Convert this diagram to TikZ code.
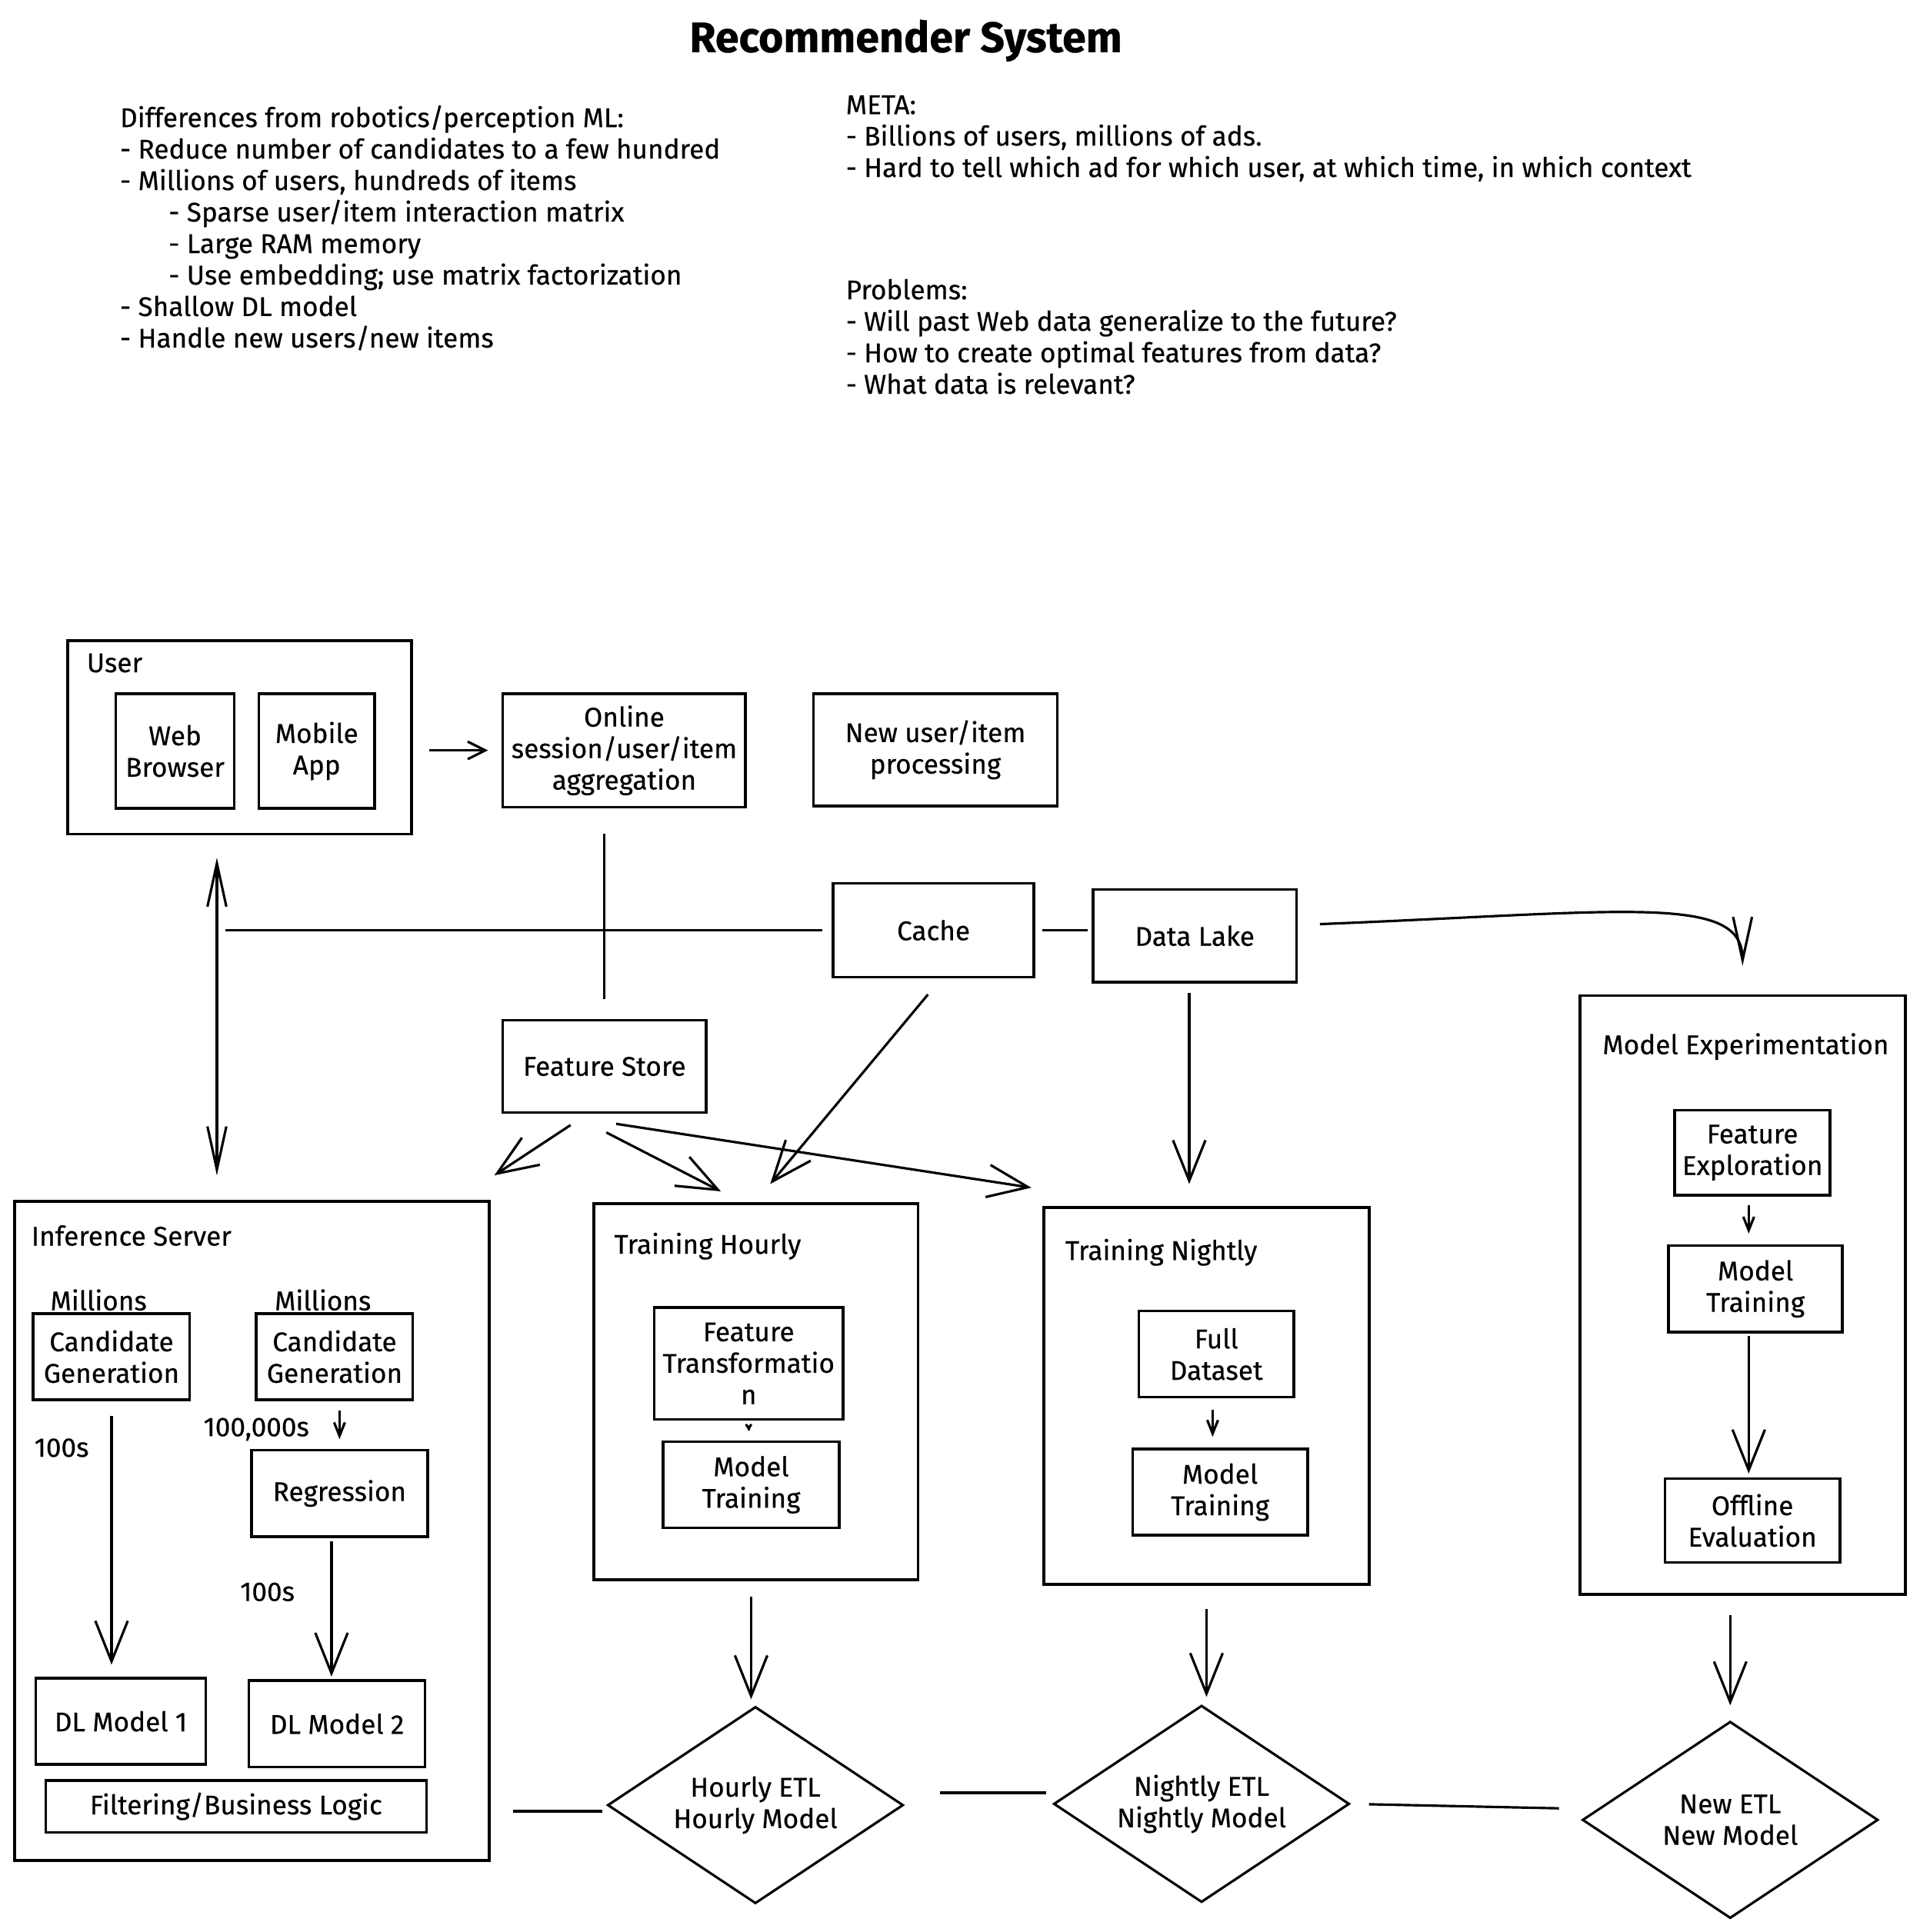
\documentclass[tikz,border=0pt]{standalone}
\usepackage{fontspec}
\setmainfont{Fira Sans}[FakeBold=0.4]
\usetikzlibrary{arrows.meta,shapes.geometric,calc}
\newcommand{\bodyfs}{\fontsize{10pt}{11.65pt}\selectfont}
\newcommand{\titlefs}{\fontsize{15.8pt}{19pt}\selectfont\bfseries}

\begin{document}
\begin{tikzpicture}[x=0.01602cm, y=-0.01602cm,
  every node/.style={font=\bodyfs},
  box/.style={draw, line width=1pt, inner sep=0pt, align=center},
  sz/.style 2 args={minimum width=#1*0.01602cm, minimum height=#2*0.01602cm},
  lbl/.style={inner sep=0pt, anchor=north west, align=left},
  txt/.style={inner sep=0pt},
  etl/.style={draw, diamond, line width=0.9pt, inner sep=0pt, aspect=1.5,
              align=center, minimum width=3.845cm, minimum height=2.56cm},
  link/.style={line width=0.9pt},
  bigtip/.style={link, -{Straight Barb[length=15pt,width=12pt]}},
  smalltip/.style={link, -{Straight Barb[length=5pt,width=4pt]}},
  midtip/.style={link, -{Straight Barb[length=6.5pt,width=6.5pt]}},
  longtip/.style={link, -{Straight Barb[length=16pt,width=7pt]}},
  bothtips/.style={link, {Straight Barb[length=16pt,width=7pt]}-{Straight Barb[length=16pt,width=7pt]}},
]
\useasboundingbox (0,0) rectangle (1558,1568);

% ---------- heading and notes ----------
\node[txt, font=\titlefs] (title) at (735,33) {Recommender System};

\node[lbl] (diffs) at (97,85) {Differences from robotics/perception ML:\\
- Reduce number of candidates to a few hundred\\
- Millions of users, hundreds of items\\
\hspace*{18pt}- Sparse user/item interaction matrix\\
\hspace*{18pt}- Large RAM memory\\
\hspace*{18pt}- Use embedding; use matrix factorization\\
- Shallow DL model\\
- Handle new users/new items};

\node[lbl] (meta) at (686,77) {META:\\
- Billions of users, millions of ads.\\
- Hard to tell which ad for which user, at which time, in which context};

\node[lbl] (problems) at (686,226) {Problems:\\
- Will past Web data generalize to the future?\\
- How to create optimal features from data?\\
- What data is relevant?};

% ---------- top row ----------
\node[box, sz={279}{157}] (user) at (194.5,598.5) {};
\node[lbl] (userlbl) at (70,530) {User};
\node[box, sz={96}{93}] (web) at (142,609.5) {Web\\Browser};
\node[box, sz={94}{93}] (mobile) at (257,609.5) {Mobile\\App};
\node[box, sz={197}{92}] (online) at (506.5,609) {Online\\session/user/item\\aggregation};
\node[box, sz={198}{91}] (newproc) at (759,608.5) {New user/item\\processing};

% ---------- storage ----------
\node[box, sz={163}{76}] (cache) at (757.5,755) {Cache};
\node[box, sz={165}{75}] (lake) at (969.5,759.5) {Data Lake};
\node[box, sz={165}{75}] (fs) at (490.5,865.5) {Feature Store};
\coordinate (jn) at (176,757);

% ---------- inference server ----------
\node[box, sz={385}{535}] (inf) at (204.5,1242.5) {};
\node[lbl] (inflbl) at (25,994) {Inference Server};
\node[txt] (mil1) at (80,1055) {Millions};
\node[txt] (mil2) at (262,1055) {Millions};
\node[box, sz={127}{70}] (cg1) at (90.5,1101) {Candidate\\Generation};
\node[box, sz={127}{70}] (cg2) at (271.5,1101) {Candidate\\Generation};
\node[txt] (n100a) at (50,1175) {100s};
\node[txt] (n100k) at (208,1160) {100,000s};
\node[txt] (n100b) at (217,1292) {100s};
\node[box, sz={143}{70}] (reg) at (275.5,1212) {Regression};
\node[box, sz={138}{70}] (dl1) at (98,1397) {DL Model 1};
\node[box, sz={143}{70}] (dl2) at (273.5,1399) {DL Model 2};
\node[box, sz={309}{42}] (filt) at (191.5,1466) {Filtering/Business Logic};

% ---------- hourly training ----------
\node[box, sz={263}{305}] (th) at (613.5,1129.5) {};
\node[lbl] (thlbl) at (498,1000) {Training Hourly};
\node[box, sz={153}{91}] (ft) at (607.5,1106.5) {Feature\\Transformatio\\n};
\node[box, sz={143}{70}] (mth) at (609.5,1205) {Model\\Training};

% ---------- nightly training ----------
\node[box, sz={264}{306}] (tn) at (979,1133) {};
\node[lbl] (tnlbl) at (864,1005) {Training Nightly};
\node[box, sz={126}{70}] (fd) at (987,1099) {Full\\Dataset};
\node[box, sz={142}{70}] (mtn) at (990,1211) {Model\\Training};

% ---------- experimentation ----------
\node[box, sz={264}{486}] (me) at (1414,1051) {};
\node[lbl] (melbl) at (1300,838) {Model Experimentation};
\node[box, sz={126}{69}] (fe) at (1422,935.5) {Feature\\Exploration};
\node[box, sz={141}{70}] (mte) at (1424.5,1046) {Model\\Training};
\node[box, sz={142}{68}] (oe) at (1422,1234) {Offline\\Evaluation};

% ---------- deployment ----------
\node[etl] (hetl) at (613,1465) {Hourly ETL\\Hourly Model};
\node[etl] (netl) at (975,1464) {Nightly ETL\\Nightly Model};
\node[etl] (newetl) at (1404,1477) {New ETL\\New Model};

% ---------- connectors ----------
\draw[midtip, shorten <=5.9pt, shorten >=5pt] (user.east |- online.west) -- (online.west);
\draw[link, shorten <=9.5pt, shorten >=7.3pt] (fs.north |- online.south) -- (fs.north);
\draw[bothtips, shorten <=8.2pt, shorten >=9.1pt] (jn |- user.south) -- (jn |- inf.north);
\draw[link, shorten <=3.6pt, shorten >=3.2pt] (cache.west) -- (jn |- cache.west);
\draw[link, shorten <=2.7pt, shorten >=1.4pt] (cache.east) -- (lake.west |- cache.east);
\draw[longtip, shorten >=10.5pt] ([shift={(18,-9.5)}]lake.east)
   .. controls (1320,740) and (1414,725) .. (me.north);

\draw[bigtip] ([shift={(-27.5,9)}]fs.south) -- ([shift={(3,-20)}]inf.north east);
\draw[bigtip] ([shift={(1.5,15)}]fs.south) -- ([shift={(-28.5,-9)}]th.north);
\draw[bigtip] ([shift={(9.5,8)}]fs.south) -- ([shift={(-9,-15)}]tn.north west);
\draw[bigtip] ([shift={(-4.5,13)}]cache.south) -- ([shift={(11.5,-15)}]th.north);
\draw[bigtip] ([shift={(-4.5,8)}]lake.south) -- ([shift={(-14,-18)}]tn.north);

\draw[bigtip, shorten <=5.5pt, shorten >=4.5pt] (cg1.south) -- (cg1.south |- dl1.north);
\draw[smalltip, shorten <=3.6pt, shorten >=3.6pt] (cg2.south -| reg.north) -- (reg.north);
\draw[bigtip, shorten <=1.4pt, shorten >=1pt] ([shift={(-6.5,0)}]reg.south) -- ([shift={(-6.5,0)}]reg.south |- dl2.north);

\draw[link, -{Straight Barb[length=1.5pt,width=2pt]}, shorten <=3.6pt, shorten >=3.6pt] (ft.south) -- (ft.south |- mth.north);
\draw[smalltip, shorten <=4pt, shorten >=4pt] ([shift={(-3,0)}]fd.south) -- ([shift={(-3,0)}]fd.south |- mtn.north);
\draw[smalltip, shorten <=3.2pt, shorten >=4pt] ([shift={(-3,0)}]fe.south) -- ([shift={(-3,0)}]fe.south |- mte.north);
\draw[bigtip, shorten <=1pt, shorten >=1.4pt] ([shift={(-5.5,0)}]mte.south) -- ([shift={(-5.5,0)}]mte.south |- oe.north);

\draw[bigtip, shorten <=5.9pt, shorten >=2.3pt] ([shift={(-4,0)}]th.south) -- ([shift={(-4,0)}]th.south |- hetl.north);
\draw[bigtip, shorten <=8.6pt, shorten >=2.7pt] (tn.south) -- (tn.south |- netl.north);
\draw[bigtip, shorten <=7.3pt, shorten >=5.5pt] (me.south -| newetl.north) -- (newetl.north);

\draw[link, shorten <=8.2pt, shorten >=1.4pt] ([shift={(0,5)}]inf.east |- hetl.west) -- ([shift={(0,5)}]hetl.west);
\draw[link, shorten <=13.2pt, shorten >=2.3pt] ([shift={(0,-10)}]hetl.east) -- ([shift={(0,-9)}]netl.west);
\draw[link, shorten <=6.8pt, shorten >=8.2pt] (netl.east) -- ([shift={(0,-9)}]newetl.west);
\end{tikzpicture}
\end{document}
